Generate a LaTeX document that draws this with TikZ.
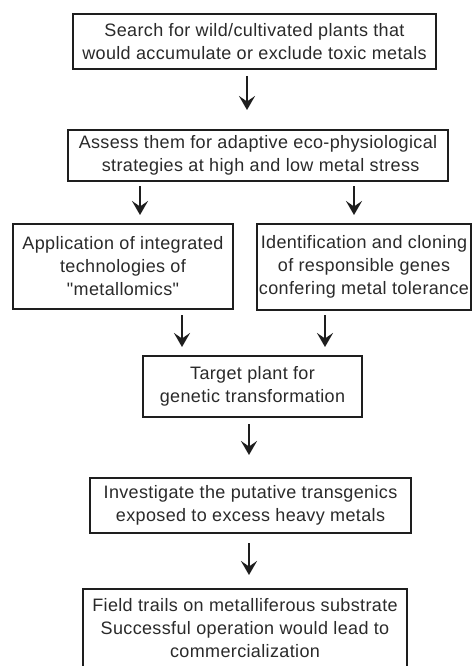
\documentclass[tikz,border=0pt]{standalone}
\usepackage{fontspec}
\setmainfont[LetterSpace=2,Ligatures=TeXOff]{Liberation Sans}
\usetikzlibrary{arrows.meta}
\definecolor{ink}{HTML}{1E1E1E}
\definecolor{txt}{HTML}{2A2A2A}
\begin{document}
\begin{tikzpicture}[x=1pt,y=-1pt,
  box/.style={draw=ink,line width=2pt,rectangle,outer sep=0pt,inner sep=0pt,
    align=center,text=txt,font=\fontsize{18}{23}\selectfont},
  arr/.style={draw=ink,line width=2.2pt,-{Stealth[length=14pt,width=16pt,inset=5.5pt]}}]
\clip (0,0) rectangle (472,666);
\fill[white] (0,0) rectangle (472,666);
\node[box,minimum width=363pt,minimum height=55pt] (b1) at (254.5,41.5)
  {Search for wild/cultivated plants that\\would accumulate or exclude toxic metals};
\node[box,minimum width=380pt,minimum height=51pt] (b2) at (258,155.5)
  {Assess them for adaptive eco-physiological\\\ strategies at high and low metal stress};
\node[box,minimum width=220pt,minimum height=85pt] (b3l) at (123,266.5)
  {Application of integrated\\technologies of\\"metallomics"};
\node[box,minimum width=214pt,minimum height=86pt] (b3r) at (364,267)
  {Identification and cloning\\of responsible genes\\confering metal tolerance};
\node[box,minimum width=219pt,minimum height=61pt] (b4) at (252.5,386.5)
  {Target plant for\\genetic transformation};
\node[box,minimum width=321pt,minimum height=55pt] (b5) at (250.5,505.5)
  {Investigate the putative transgenics\\exposed to excess heavy metals};
\node[box,minimum width=324pt,minimum height=79pt] (b6) at (245,628.5)
  {Field trails on metalliferous substrate\\Successful operation would lead to\\commercialization};
\draw[arr,shorten <=7pt,shorten >=20pt] ([xshift=-7.5pt]b1.south) -- ([xshift=-11pt]b2.north);
\draw[arr,shorten <=5pt,shorten >=9pt] ([xshift=-118pt]b2.south) -- ([xshift=17pt]b3l.north);
\draw[arr,shorten <=5pt,shorten >=9pt] ([xshift=96pt]b2.south) -- ([xshift=-10pt]b3r.north);
\draw[arr,shorten <=6pt,shorten >=9pt] ([xshift=59pt]b3l.south) -- ([xshift=-70.5pt]b4.north);
\draw[arr,shorten <=5pt,shorten >=9pt] ([xshift=-39pt]b3r.south) -- ([xshift=72.5pt]b4.north);
\draw[arr,shorten <=7pt,shorten >=23pt] ([xshift=-3.5pt]b4.south) -- ([xshift=-1.5pt]b5.north);
\draw[arr,shorten <=10pt,shorten >=14pt] ([xshift=-1.5pt]b5.south) -- ([xshift=4pt]b6.north);
\end{tikzpicture}
\end{document}
